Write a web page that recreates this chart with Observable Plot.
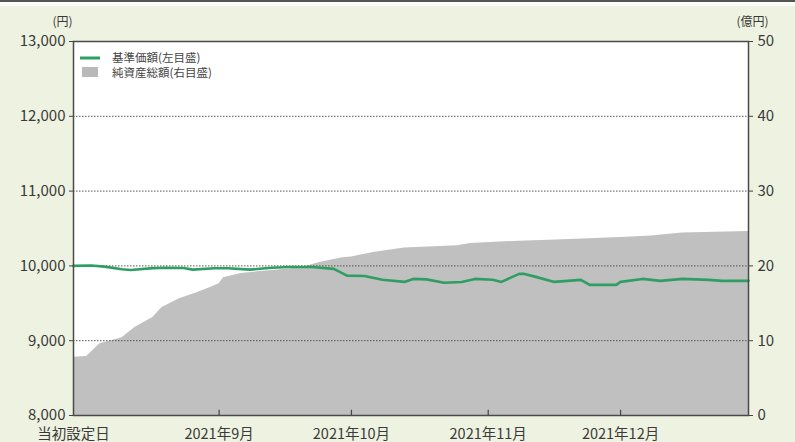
<!DOCTYPE html>
<html><head><meta charset="utf-8">
<script src="https://cdn.jsdelivr.net/npm/d3@7"></script>
<script src="https://cdn.jsdelivr.net/npm/@observablehq/plot@0.6"></script>
<style>
html,body{margin:0;padding:0;background:#eef2e1;}
#wrap{position:relative;width:795px;height:442px;overflow:hidden;}
#bar{position:absolute;left:0;top:0;width:795px;height:2px;background:#555;}
#bar2{position:absolute;left:0;top:2px;width:795px;height:4px;background:#fafcf6;}
svg{font-family:"Noto Sans CJK JP","Noto Sans",sans-serif;}
</style></head>
<body><div id="wrap"><div id="bar"></div><div id="bar2"></div></div>
<script>
// 基準価額 (円, left axis)
const priceDates = ["2021-07-30","2021-08-03","2021-08-06","2021-08-10","2021-08-12","2021-08-17","2021-08-20","2021-08-24","2021-08-26","2021-08-31","2021-09-03","2021-09-08","2021-09-13","2021-09-17","2021-09-22","2021-09-27","2021-09-30","2021-10-04","2021-10-08","2021-10-13","2021-10-15","2021-10-18","2021-10-22","2021-10-26","2021-10-29","2021-11-02","2021-11-04","2021-11-08","2021-11-09","2021-11-12","2021-11-16","2021-11-22","2021-11-24","2021-11-30","2021-12-01","2021-12-06","2021-12-10","2021-12-15","2021-12-21","2021-12-24","2021-12-30"];
const priceValues = [10000,10005,9990,9955,9945,9970,9975,9972,9950,9968,9968,9950,9975,9985,9985,9960,9870,9865,9815,9786,9826,9820,9775,9785,9826,9815,9786,9893,9895,9850,9786,9813,9746,9746,9786,9826,9800,9826,9813,9800,9800];
// 純資産総額 (億円, right axis)
const navDates = ["2021-07-30","2021-08-02","2021-08-05","2021-08-10","2021-08-13","2021-08-17","2021-08-19","2021-08-23","2021-08-27","2021-08-30","2021-09-01","2021-09-02","2021-09-06","2021-09-13","2021-09-17","2021-09-21","2021-09-24","2021-09-29","2021-10-01","2021-10-06","2021-10-13","2021-10-25","2021-10-28","2021-11-08","2021-11-18","2021-12-01","2021-12-08","2021-12-15","2021-12-30"];
const navValues = [7.8,7.9,9.6,10.4,11.8,13.1,14.4,15.6,16.4,17.1,17.6,18.4,19.0,19.4,19.6,20.0,20.5,21.1,21.2,21.8,22.4,22.7,23.0,23.3,23.5,23.8,24.0,24.4,24.6];
// axes
const leftTicks = [8000,9000,10000,11000,12000,13000];
const rightTickLabels = [0,10,20,30,40,50];
const gridValues = [9000,10000,11000,12000];
const xTickDates = ["2021-07-30","2021-09-01","2021-10-01","2021-11-01","2021-12-01"];
const xTickLabels = ["当初設定日","2021年9月","2021年10月","2021年11月","2021年12月"];
const monthTickDates = ["2021-09-01","2021-10-01","2021-11-01","2021-12-01"];
const legendLabels = ["基準価額(左目盛)","純資産総額(右目盛)"];
const xDomain = ["2021-07-30","2021-12-30"];

const parse = d3.utcParse("%Y-%m-%d");
const price = priceDates.map((d,i)=>({date:parse(d), v:priceValues[i]}));
const nav = navDates.map((d,i)=>({date:parse(d), v:navValues[i]}));
// right axis: 0..50 億円 mapped onto 8000..13000 円
const toLeft = v => 8000 + v*100;
const xt = xTickDates.map(parse);
const labelOf = new Map(xt.map((d,i)=>[+d, xTickLabels[i]]));

const ML = 73, MR = 47, MT = 41, MB = 27;

const legend = () => {
  const g = d3.create("svg:g").attr("text-anchor","start");
  const x0 = ML, y0 = MT;
  g.append("line").attr("x1",x0+7).attr("x2",x0+27).attr("y1",y0+17).attr("y2",y0+17)
    .attr("stroke","#2f9e62").attr("stroke-width",3);
  g.append("rect").attr("x",x0+9).attr("y",y0+26).attr("width",16).attr("height",10).attr("fill","#b9b9b9");
  legendLabels.forEach((t,i)=>{
    g.append("text").attr("x",x0+39).attr("y",y0+17+i*14.5).attr("dy","0.35em")
      .attr("text-anchor","start")
      .attr("font-size",11.5).attr("fill","#444").text(t);
  });
  return g.node();
};

const chart = Plot.plot({
  width: 795, height: 442,
  marginLeft: ML, marginRight: MR, marginTop: MT, marginBottom: MB,
  style: {background: "transparent", fontFamily: '"Noto Sans CJK JP","Noto Sans",sans-serif', color:"#3a3a3a"},
  x: {type: "utc", domain: xDomain.map(parse)},
  y: {domain: [8000, 13000]},
  marks: [
    Plot.rectY([0], {x1: parse(xDomain[0]), x2: parse(xDomain[1]), y1: 8000, y2: 13000, fill: "white"}),
    Plot.areaY(nav, {x: "date", y1: 8000, y2: d => toLeft(d.v), curve: "linear", fill: "#c0c0c0"}),
    Plot.ruleY(gridValues, {stroke: "#555", strokeWidth: 1, strokeDasharray: "1.5,1.5"}),
    Plot.lineY(price, {x: "date", y: "v", stroke: "#2f9e62", strokeWidth: 2.6, curve: "linear"}),
    Plot.ruleX(monthTickDates.map(parse), {y1: 8000, y2: 8070, stroke: "#444", strokeWidth: 1.2}),
    Plot.axisY(leftTicks, {anchor: "left", tickSize: 4, tickPadding: 4, fontSize: 15, tickFormat: d3.format(","), label: null, stroke:"#444"}),
    Plot.axisY(leftTicks, {anchor: "right", tickSize: 4, tickPadding: 5, fontSize: 15, tickFormat: (d,i) => rightTickLabels[i], label: null, stroke:"#444"}),
    Plot.axisX(xt, {anchor: "bottom", tickSize: 0, tickPadding: 13, fontSize: 14.5, tickFormat: d => labelOf.get(+d), label: null}),
    Plot.text(["(円)"], {frameAnchor: "top-left", dx: -21, dy: -24, fontSize: 12, fill: "#3a3a3a"}),
    Plot.text(["(億円)"], {frameAnchor: "top-right", dx: 20, dy: -24, fontSize: 12, fill: "#3a3a3a"}),
    Plot.frame({stroke: "#4a4a4a", strokeWidth: 1.5}),
    legend
  ]
});
document.getElementById("wrap").appendChild(chart);
</script></body></html>
